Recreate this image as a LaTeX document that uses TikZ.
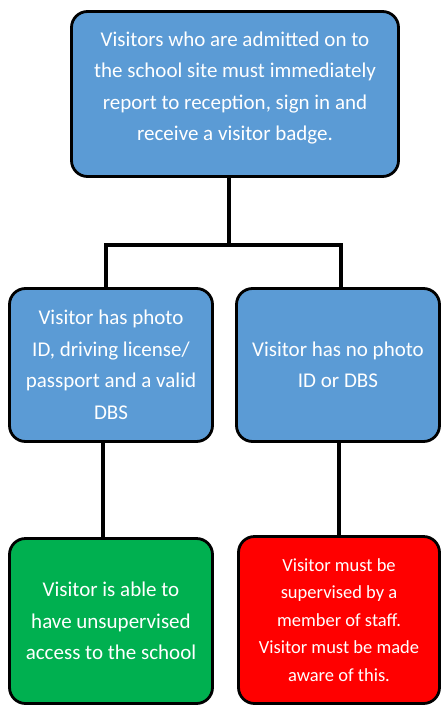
\documentclass[tikz,border=0pt]{standalone}
\usepackage{fontspec}
\setmainfont{Carlito}
\definecolor{boxblue}{HTML}{5B9BD5}
\definecolor{boxgreen}{HTML}{00B050}
\definecolor{boxred}{HTML}{FF0000}
\tikzset{
 flowbox/.style={draw=black,line width=2.8pt,rounded corners=16pt,text=white,align=center,inner sep=0pt,font=\fontsize{21}{31.5}\selectfont},
 link/.style={line width=3.2pt}
}
\begin{document}
\begin{tikzpicture}[x=1pt,y=-1pt]
\useasboundingbox (0,0) rectangle (441,706);
\node[flowbox,fill=boxblue,minimum width=327pt,minimum height=165pt](admit)at(235,94){Visitors who are admitted on to\\the school site must immediately\\report to reception, sign in and\\receive a visitor badge.\\[-16pt]\mbox{}};
\node[flowbox,fill=boxblue,minimum width=203pt,minimum height=153pt](photo)at(111,365){Visitor has photo\\ID, driving license/\\passport and a valid\\DBS};
\node[flowbox,fill=boxblue,minimum width=203pt,minimum height=153pt](nophoto)at(338,365){Visitor has no photo\\ID or DBS};
\node[flowbox,fill=boxgreen,minimum width=203pt,minimum height=165pt](access)at(111,621){Visitor is able to\\have unsupervised\\access to the school};
\node[flowbox,fill=boxred,minimum width=201pt,minimum height=167pt,font=\fontsize{18.5}{27.5}\selectfont](supervise)at(339,620){Visitor must be\\supervised by a\\member of staff.\\Visitor must be made\\aware of this.};
\coordinate(split)at(229,245);
\coordinate(busL)at(106,245);
\coordinate(busR)at(341,245);
\coordinate(dropL)at(103,490);
\coordinate(dropR)at(339,490);
\draw[link](admit.south-|split)--(split);
\draw[link,line join=miter](photo.north-|busL)--(busL)--(busR)--(nophoto.north-|busR);
\draw[link](photo.south-|dropL)--(access.north-|dropL);
\draw[link](nophoto.south-|dropR)--(supervise.north-|dropR);
\end{tikzpicture}
\end{document}
